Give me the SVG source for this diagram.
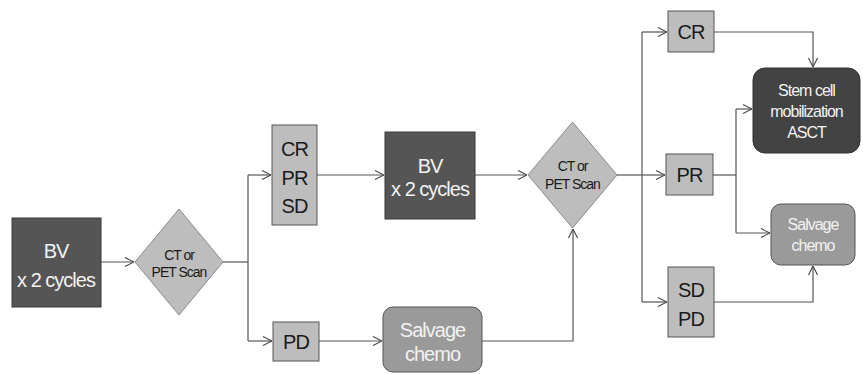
<svg xmlns="http://www.w3.org/2000/svg" width="863" height="374" viewBox="0 0 863 374">
<defs>
<marker id="ah" viewBox="0 0 10 10" refX="10" refY="5" markerWidth="10" markerHeight="10" markerUnits="userSpaceOnUse" orient="auto">
<path d="M1,0.5 L10,5 L1,9.5" fill="none" stroke="#444" stroke-width="1.1"/>
</marker>
</defs>
<style>
.dark{fill:#555555;stroke:#3a3a3a;stroke-width:1}
.darker{fill:#434343;stroke:#333;stroke-width:1}
.light{fill:#bdbdbd;stroke:#555;stroke-width:1}
.mid{fill:#9a9a9a;stroke:#555;stroke-width:1}
.dia{fill:#bdbdbd;stroke:#8a8a8a;stroke-width:1}
text{font-family:"Liberation Sans",Arial,sans-serif;text-anchor:middle;letter-spacing:-1px}
.w{fill:#f2f2f2}
.k{fill:#1a1a1a}
.big{font-size:20px}
.sm{font-size:14px}
.md{font-size:16px}
.c{fill:none;stroke:#555;stroke-width:1.2}
</style>
<g id="connectors">
<path class="c" d="M101,262 H134" marker-end="url(#ah)"/>
<path class="c" d="M223,262 H248"/>
<path class="c" d="M248,175 V341"/>
<path class="c" d="M248,175 H271" marker-end="url(#ah)"/>
<path class="c" d="M248,341 H272" marker-end="url(#ah)"/>
<path class="c" d="M317,175 H384" marker-end="url(#ah)"/>
<path class="c" d="M319,341 H382" marker-end="url(#ah)"/>
<path class="c" d="M475,175 H527" marker-end="url(#ah)"/>
<path class="c" d="M482,341 H573 V229" marker-end="url(#ah)"/>
<path class="c" d="M617,175 H642"/>
<path class="c" d="M642,32 V302"/>
<path class="c" d="M642,32 H667" marker-end="url(#ah)"/>
<path class="c" d="M642,175 H665" marker-end="url(#ah)"/>
<path class="c" d="M642,302 H667" marker-end="url(#ah)"/>
<path class="c" d="M714,32 H813 V67" marker-end="url(#ah)"/>
<path class="c" d="M713,175 H736"/>
<path class="c" d="M736,109 V233"/>
<path class="c" d="M736,109 H752" marker-end="url(#ah)"/>
<path class="c" d="M736,233 H770" marker-end="url(#ah)"/>
<path class="c" d="M714,302 H813 V266" marker-end="url(#ah)"/>
</g>
<g id="bv1">
<rect class="dark" x="12" y="218" width="89" height="89"/>
<text class="big w" x="56" y="258">BV</text>
<text class="big w" x="56" y="287">x 2 cycles</text>
</g>
<g id="scan1">
<polygon class="dia" points="179,209 223,262 179,315 135,262"/>
<text class="sm k" x="179" y="260">CT or</text>
<text class="sm k" x="179" y="277">PET Scan</text>
</g>
<g id="crprsd">
<rect class="light" x="272" y="125" width="45" height="100"/>
<text class="big k" x="294.5" y="156">CR</text>
<text class="big k" x="294.5" y="185">PR</text>
<text class="big k" x="294.5" y="213">SD</text>
</g>
<g id="pd">
<rect class="light" x="273" y="322" width="46" height="39"/>
<text class="big k" x="296" y="349">PD</text>
</g>
<g id="bv2">
<rect class="dark" x="385" y="132" width="90" height="87"/>
<text class="big w" x="430" y="173">BV</text>
<text class="big w" x="430" y="196">x 2 cycles</text>
</g>
<g id="salvage1">
<rect class="mid" x="383" y="307" width="99" height="65" rx="10"/>
<text class="big w" x="432.5" y="337">Salvage</text>
<text class="big w" x="432.5" y="361">chemo</text>
</g>
<g id="scan2">
<polygon class="dia" points="572.5,122 617,175 572.5,228 528,175"/>
<text class="sm k" x="572.5" y="171">CT or</text>
<text class="sm k" x="572.5" y="189">PET Scan</text>
</g>
<g id="cr">
<rect class="light" x="668" y="11" width="46" height="41"/>
<text class="big k" x="691" y="39">CR</text>
</g>
<g id="pr">
<rect class="light" x="666" y="154" width="47" height="41"/>
<text class="big k" x="689.5" y="182">PR</text>
</g>
<g id="sdpd">
<rect class="light" x="668" y="267" width="46" height="70"/>
<text class="big k" x="691" y="297">SD</text>
<text class="big k" x="691" y="326">PD</text>
</g>
<g id="stemcell">
<rect class="darker" x="753" y="68" width="107" height="85" rx="12"/>
<text class="md w" x="806.5" y="96">Stem cell</text>
<text class="md w" x="806.5" y="117">mobilization</text>
<text class="md w" x="806.5" y="138">ASCT</text>
</g>
<g id="salvage2">
<rect class="mid" x="771" y="204" width="84" height="61" rx="10"/>
<text class="md w" x="813" y="230">Salvage</text>
<text class="md w" x="813" y="251">chemo</text>
</g>
</svg>
